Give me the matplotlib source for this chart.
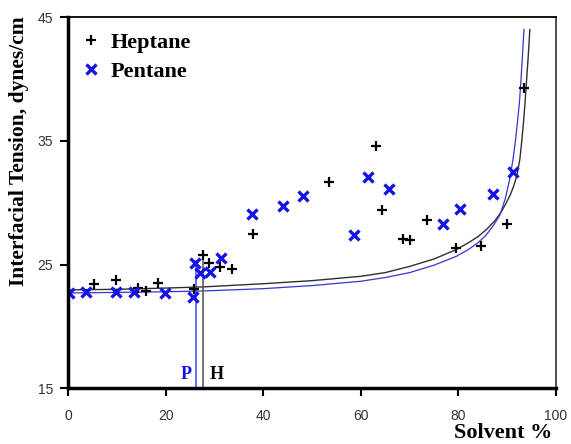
import numpy as np
import matplotlib
matplotlib.use("Agg")
import matplotlib.pyplot as plt

plt.rcParams["font.family"] = ["Liberation Sans", "DejaVu Sans"]

# measured interfacial tension, heptane
hep_x = [5.3, 9.7, 14.2, 15.9, 18.3, 25.8, 27.6, 28.9, 31.1, 33.6, 37.9,
         53.5, 63.1, 64.3, 68.6, 70.1, 73.5, 79.5, 84.7, 89.9, 93.4]
hep_y = [23.4, 23.75, 23.1, 22.9, 23.5, 23.0, 25.8, 25.1, 24.8, 24.6, 27.5,
         31.65, 34.6, 29.4, 27.05, 27.0, 28.6, 26.3, 26.5, 28.3, 39.25]

# measured interfacial tension, pentane
pen_x = [0.1, 3.6, 9.7, 13.5, 19.8, 25.5, 26.0, 27.0, 29.1, 31.3, 37.6,
         44.1, 48.1, 58.6, 61.5, 65.7, 76.9, 80.3, 87.0, 91.1]
pen_y = [22.7, 22.8, 22.8, 22.75, 22.7, 22.35, 25.1, 24.3, 24.4, 25.5, 29.1,
         29.75, 30.5, 27.4, 32.1, 31.1, 28.25, 29.5, 30.7, 32.5]

# model curves
hep_cx = [0, 10, 20, 28, 40, 50, 60, 65, 70, 75, 79.5, 82, 84, 85.8, 87.5,
          88.7, 89.7, 90.6, 91.3, 92.0, 92.6, 93.0, 93.35, 93.65, 94.0,
          94.35, 94.65]
hep_cy = [22.95, 23.0, 23.1, 23.2, 23.45, 23.7, 24.05, 24.35, 24.85, 25.45,
          26.2, 26.75, 27.25, 27.85, 28.55, 29.2, 29.9, 30.6, 31.3, 32.2,
          33.5, 35.0, 36.5, 38.0, 40.0, 42.0, 44.0]
pen_cx = [0, 10, 20, 28, 40, 50, 60, 65, 70, 75, 79.5, 82, 84, 85.6, 87.0,
          88.5, 89.6, 90.5, 91.2, 91.7, 92.1, 92.5, 92.85, 93.15, 93.45]
pen_cy = [22.7, 22.75, 22.8, 22.87, 23.05, 23.3, 23.65, 23.95, 24.35, 24.95,
          25.65, 26.2, 26.75, 27.35, 28.05, 29.0, 30.3, 31.85, 33.5, 35.0,
          36.5, 38.0, 40.0, 42.0, 44.0]

# onset lines
p_onset = 26.2
h_onset = 27.7

blue = "#1414e6"

fig = plt.figure(figsize=(5.71, 4.44), dpi=100)
ax = fig.add_axes([0.1196, 0.1255, 0.854, 0.836])

ax.plot(hep_cx, hep_cy, color="#303030", lw=1.0)
ax.plot(pen_cx, pen_cy, color="#3535d0", lw=0.9)
ax.plot([p_onset, p_onset], [15, 25.3], color="#4a4ad8", lw=1.1)
ax.plot([h_onset, h_onset], [15, 25.6], color="#505050", lw=1.1)

ax.plot(hep_x, hep_y, ls="none", marker="+", ms=6.5, mew=1.6, color="black",
        label="Heptane")
ax.plot(pen_x, pen_y, ls="none", marker="x", ms=7.5, mew=2.4, color=blue,
        label="Pentane")

ax.text(p_onset - 0.9, 16.15, "P", color=blue, fontsize=13, fontweight="bold",
        family="Liberation Serif", ha="right", va="center")
ax.text(h_onset + 1.2, 16.15, "H", color="black", fontsize=13,
        fontweight="bold", family="Liberation Serif", ha="left", va="center")

ax.set_xlim(0, 100)
ax.set_ylim(15, 45)
ax.set_xticks([0, 20, 40, 60, 80, 100])
ax.set_yticks([15, 25, 35, 45])

ax.spines["left"].set_linewidth(2.5)
ax.spines["bottom"].set_linewidth(2.5)
ax.spines["top"].set_linewidth(1.3)
ax.spines["right"].set_linewidth(1.3)
ax.spines["right"].set_color("#404040")
ax.tick_params(direction="out", length=6, width=1.5, labelsize=10,
               labelcolor="#333333")
ax.tick_params(axis="x", pad=9)
ax.tick_params(axis="y", pad=5)

fig.text(0.034, 0.66, "Interfacial Tension, dynes/cm", rotation=90,
         ha="center", va="center", fontsize=15.5, fontweight="bold",
         family="Liberation Serif")
fig.text(0.968, 0.003, "Solvent %", ha="right", va="bottom", fontsize=16,
         fontweight="bold", family="Liberation Serif")

leg = ax.legend(loc="upper left", frameon=False, handlelength=0.6,
                handletextpad=0.6, labelspacing=0.35, borderaxespad=0.3,
                prop={"family": "Liberation Serif", "weight": "bold",
                      "size": 16})

fig.savefig("out.png", dpi=100)
